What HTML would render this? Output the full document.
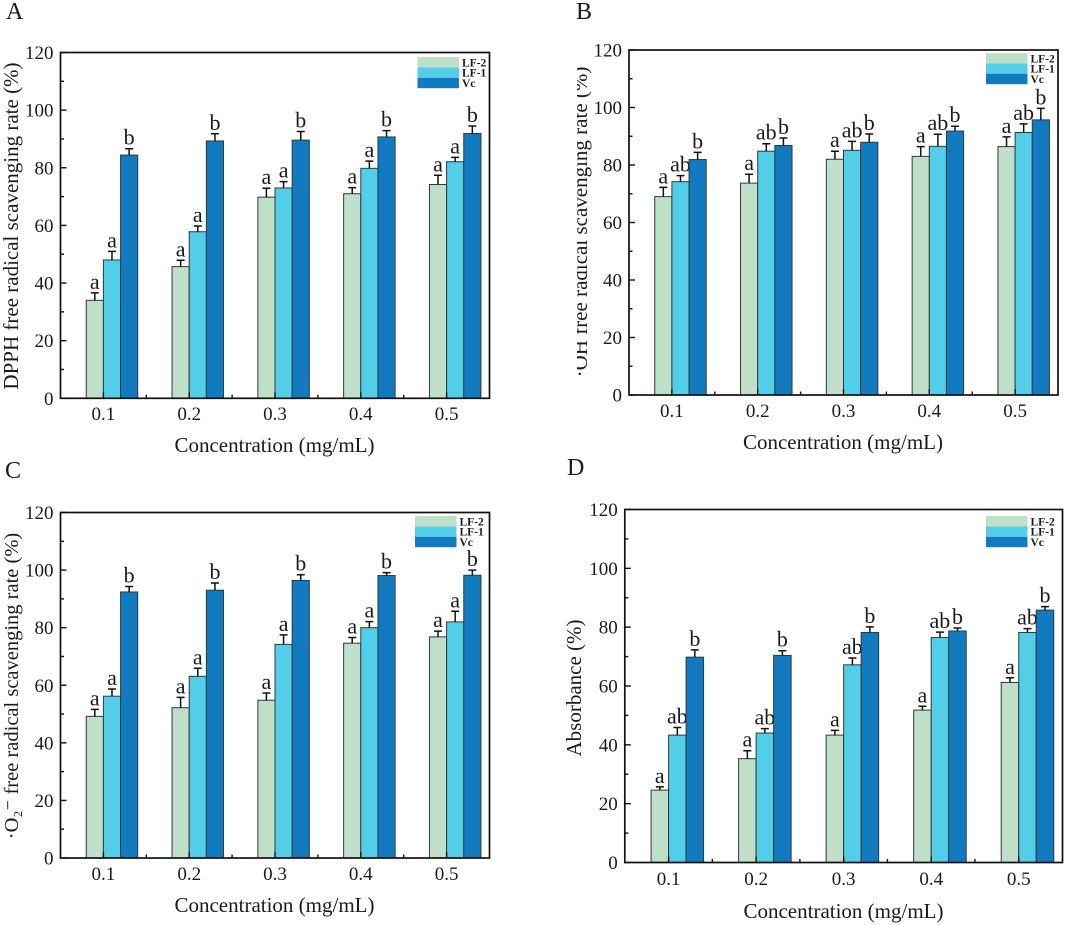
<!DOCTYPE html>
<html lang="en">
<head>
<meta charset="utf-8">
<title>Free radical scavenging rates of LF-2, LF-1 and Vc</title>
<style>
html,body{margin:0;padding:0;background:#fff;}
svg{display:block;}
text{font-family:"Liberation Serif",serif;fill:#1a1a1a;}
</style>
</head>
<body>
<svg id="figure" xmlns="http://www.w3.org/2000/svg" width="1065" height="925" viewBox="0 0 1065 925"></svg>
<script>
const categories = ['0.1', '0.2', '0.3', '0.4', '0.5'];
const yTicks = [0, 20, 40, 60, 80, 100, 120];
const yMinorTicks = [10, 30, 50, 70, 90, 110];
const seriesNames = ['LF-2', 'LF-1', 'Vc'];

const panelALf2 = [34, 45.7, 69.8, 71, 74.2];
const panelALf2Err = [2.6, 2.2, 3.1, 2.1, 3.2];
const panelALf1 = [48, 57.8, 73, 79.8, 82.1];
const panelALf1Err = [3, 2, 2.2, 2.5, 1.5];
const panelAVc = [84.4, 89.3, 89.6, 90.7, 91.9];
const panelAVcErr = [2.2, 2.5, 3, 2.2, 2.6];
const panelALetters = ['a', 'a', 'b'];

const panelBLf2 = [69, 73.7, 82, 83, 86.4];
const panelBLf2Err = [3.2, 3.1, 2.8, 3.4, 3.4];
const panelBLf1 = [74.2, 84.8, 85.1, 86.5, 91.3];
const panelBLf1Err = [2.1, 2.6, 3.1, 4.2, 3];
const panelBVc = [81.9, 86.8, 87.9, 91.8, 95.7];
const panelBVcErr = [2.5, 2.6, 2.9, 1.7, 4];
const panelBLetters = ['a', 'ab', 'b'];

const panelCLf2 = [49.2, 52.2, 54.8, 74.6, 76.8];
const panelCLf2Err = [2.4, 3.6, 2.5, 2, 2];
const panelCLf1 = [56.2, 63.1, 74.2, 80, 82];
const panelCLf1Err = [2.5, 2.8, 3.3, 2.1, 3.7];
const panelCVc = [92.4, 93, 96.4, 98.1, 98.2];
const panelCVcErr = [1.9, 2.5, 2, 1, 1.8];
const panelCLetters = ['a', 'a', 'b'];

const panelDLf2 = [24.6, 35.3, 43.3, 51.8, 61.2];
const panelDLf2Err = [1.1, 2.7, 1.6, 1.3, 1.6];
const panelDLf1 = [43.3, 44, 67.2, 76.5, 78.2];
const panelDLf1Err = [2.6, 1.5, 2.3, 1.8, 1.3];
const panelDVc = [69.8, 70.4, 78.2, 78.7, 85.8];
const panelDVcErr = [2.5, 1.6, 1.9, 1, 1.2];
const panelDLetters = ['a', 'ab', 'b'];

const colors = ['#bfdfc8', '#53cee8', '#127abe'];
const NS = 'http://www.w3.org/2000/svg';
const svg = document.getElementById('figure');

function make(tag, attrs, parent, content) {
  const node = document.createElementNS(NS, tag);
  for (const k in attrs) node.setAttribute(k, attrs[k]);
  if (content !== undefined) node.textContent = content;
  parent.appendChild(node);
  return node;
}

function drawPanel(p) {
  const g = make('g', {}, svg);
  
  

  const yMax = 120;
  const yScale = v => p.B - (v / yMax) * (p.B - p.T);
  const step = (p.R - p.L) / categories.length;
  const xScale = i => p.L + step * (i + 0.5);
  const barW = step * 0.2;

  const letter = make('text', {x: p.letterX, y: p.letterY, 'font-size': 24}, g, p.id);
  
  

  // bars, error bars, significance letters
  p.series.forEach((vals, s) => {
    vals.forEach((v, i) => {
      const x = xScale(i) + (s - 1) * barW;
      const bar = make('rect', {x: x, y: yScale(v), width: barW, height: p.B - yScale(v), fill: colors[s], stroke: '#2e3a3a', 'stroke-width': 1}, g);
      
      
      const cx = x + barW / 2;
      const top = yScale(v + p.errors[s][i]);
      const err = make('path', {d: 'M' + cx + ' ' + yScale(v) + 'V' + top + 'M' + (cx - 4) + ' ' + top + 'H' + (cx + 4), fill: 'none', stroke: '#111', 'stroke-width': 1.5}, g);
      
      
      const sig = make('text', {x: cx, y: top - 4, 'font-size': 22, 'text-anchor': 'middle'}, g, p.letters[s]);
      
      
    });
  });

  // frame
  const frame = make('rect', {x: p.L, y: p.T, width: p.R - p.L, height: p.B - p.T, fill: 'none', stroke: '#111', 'stroke-width': 1.7}, g);
  
  

  // y axis
  yTicks.forEach(t => {
    const tick = make('line', {x1: p.L, x2: p.L + 6, y1: yScale(t), y2: yScale(t), stroke: '#111', 'stroke-width': 1.4}, g);
    
    
    const lab = make('text', {x: p.L - 7, y: yScale(t) + 6.5, 'font-size': 19, 'text-anchor': 'end'}, g, t);
    
    
  });
  yMinorTicks.forEach(t => {
    const tick = make('line', {x1: p.L, x2: p.L + 3.5, y1: yScale(t), y2: yScale(t), stroke: '#111', 'stroke-width': 1.4}, g);
    
    
  });

  // x axis
  categories.forEach((c, i) => {
    const tick = make('line', {x1: xScale(i), x2: xScale(i), y1: p.B, y2: p.B - 6, stroke: '#111', 'stroke-width': 1.4}, g);
    
    
    const lab = make('text', {x: xScale(i), y: p.tickY, 'font-size': 19, 'text-anchor': 'middle'}, g, c);
    
    
    if (i < categories.length - 1) {
      const minor = make('line', {x1: xScale(i) + step / 2, x2: xScale(i) + step / 2, y1: p.B, y2: p.B - 3.5, stroke: '#111', 'stroke-width': 1.4}, g);
      
      
    }
  });

  // axis titles
  const xTitle = make('text', {x: (p.xTitleX), y: p.xTitleY, 'font-size': 21, 'text-anchor': 'middle'}, g, 'Concentration (mg/mL)');
  
  

  const yTitle = make('text', {transform: 'translate(' + p.yTitleX + ' ' + p.yTitleY + ') rotate(-90)', 'font-size': p.yTitleSize || 21, 'text-anchor': 'middle'}, g, p.yTitle);
  
  
  if (p.maskRight) {
    const mask = make('rect', {x: p.maskRight - 20, y: p.yTitleY - 180, width: 20, height: 360, fill: '#fff'}, g);
    
    
  }

  // legend
  seriesNames.forEach((n, s) => {
    const sw = make('rect', {x: p.legX, y: p.legY + s * 10.4, width: 41.5, height: 10.4, fill: colors[s]}, g);
    
    
    const lab = make('text', {x: p.legX + 44.5, y: p.legY + s * 10.4 + 9.3, 'font-size': 11.5, 'font-weight': 'bold'}, g, n);
    
    
  });
}

drawPanel({
  id: 'A', L: 60.5, R: 489.5, T: 52.5, B: 398.3,
  series: [panelALf2, panelALf1, panelAVc],
  errors: [panelALf2Err, panelALf1Err, panelAVcErr],
  letters: panelALetters,
  letterX: 6, letterY: 19, tickY: 420,
  xTitleX: 274.5, xTitleY: 452,
  yTitle: 'DPPH free radical scavenging rate (%)', yTitleX: 18, yTitleY: 226,
  legX: 417.5, legY: 57
});
drawPanel({
  id: 'B', L: 629, R: 1058, T: 50, B: 395,
  series: [panelBLf2, panelBLf1, panelBVc],
  errors: [panelBLf2Err, panelBLf1Err, panelBVcErr],
  letters: panelBLetters,
  letterX: 576, letterY: 19, tickY: 417,
  xTitleX: 843, xTitleY: 449,
  yTitle: '·OH free radical scavenging rate (%)', yTitleX: 587, yTitleY: 222, maskRight: 577,
  legX: 986, legY: 53
});
drawPanel({
  id: 'C', L: 60.5, R: 489.5, T: 512.5, B: 858,
  series: [panelCLf2, panelCLf1, panelCVc],
  errors: [panelCLf2Err, panelCLf1Err, panelCVcErr],
  letters: panelCLetters,
  letterX: 5, letterY: 478, tickY: 880,
  xTitleX: 274.5, xTitleY: 912,
  yTitle: '·O₂⁻ free radical scavenging rate (%)', yTitleSize: 20.5, yTitleX: 18, yTitleY: 686,
  legX: 415, legY: 516
});
drawPanel({
  id: 'D', L: 624.8, R: 1062.5, T: 509.5, B: 862.5,
  series: [panelDLf2, panelDLf1, panelDVc],
  errors: [panelDLf2Err, panelDLf1Err, panelDVcErr],
  letters: panelDLetters,
  letterX: 567, letterY: 475, tickY: 885,
  xTitleX: 843.5, xTitleY: 918,
  yTitle: 'Absorbance (%)', yTitleX: 581, yTitleY: 688,
  legX: 986, legY: 516
});
</script>
</body>
</html>
